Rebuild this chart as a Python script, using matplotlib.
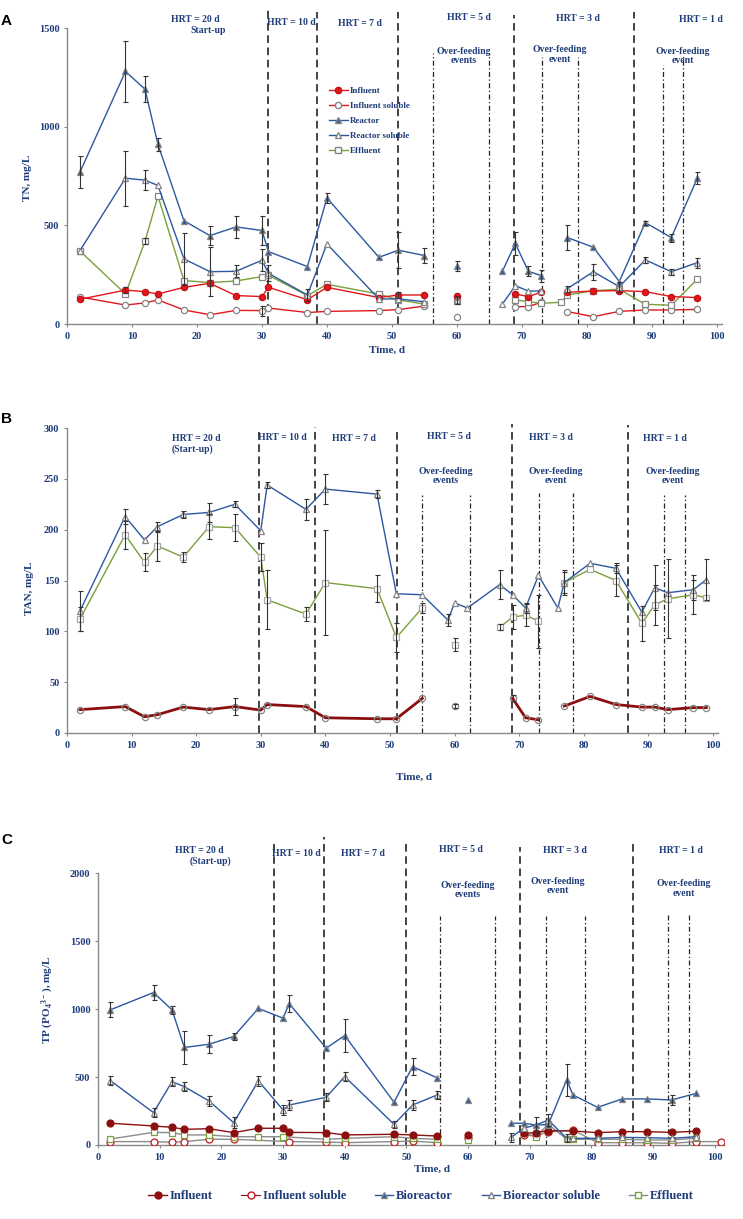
import numpy as np
import matplotlib.pyplot as plt
from matplotlib.lines import Line2D

nan = np.nan

# ---------------- Panel A: TN ----------------
a_reac_day = [2, 9, 12, 14, 18, 22, 26, 30, 31, 37, 40, 48, 51, 55, 57, 60, 62, 67, 69, 71, 73, 75, 77, 81, 85, 89, 93, 97]
a_reac = [770, 1280, 1190, 910, 523, 448, 492, 474, 367, 291, 639, 338, 374, 347, nan, 294, nan, 267, 408, 267, 245, nan, 438, 389, 215, 514, 438, 739]
a_reac_err = [80, 155, 65, 35, 0, 50, 55, 75, 0, 0, 25, 0, 90, 40, 0, 25, 0, 0, 60, 25, 30, 0, 65, 0, 0, 10, 20, 30]
a_rsol = [372, 739, 729, 702, 330, 265, 267, 323, 257, 147, 406, 127, 127, 113, nan, 122, nan, 101, 194, 167, 167, nan, 179, 265, 189, 325, 265, 311]
a_rsol_err = [0, 140, 50, 0, 130, 125, 30, 55, 40, 30, 0, 0, 0, 0, 0, 20, 0, 0, 0, 0, 0, 0, 15, 40, 25, 15, 15, 25]

a_inf_day = [2, 9, 12, 14, 18, 22, 26, 30, 31, 37, 40, 48, 51, 55, 57, 60, 62, 69, 71, 73, 75, 77, 81, 85, 89, 93, 97]
a_inf = [125, 172, 164, 152, 186, 206, 144, 139, 186, 123, 186, 134, 147, 147, nan, 144, nan, 152, 139, 161, nan, 161, 167, 169, 164, 139, 134]
a_inf_err = [0, 15, 0, 0, 0, 0, 0, 0, 0, 0, 0, 0, 15, 0, 0, 0, 0, 0, 0, 0, 0, 0, 0, 0, 0, 0, 0]
a_isol = [137, 96, 107, 122, 71, 47, 69, 68, 81, 58, 64, 68, 73, 91, nan, 36, nan, 88, 88, 110, nan, 63, 37, 64, 71, 71, 74]
a_isol_err = [0, 0, 0, 0, 0, 0, 0, 25, 0, 0, 0, 0, 0, 0, 0, 0, 0, 0, 0, 0, 0, 0, 0, 0, 0, 0, 0]

a_eff_day = [2, 9, 12, 14, 18, 22, 26, 30, 31, 37, 40, 48, 51, 55, 57, 60, 62, 69, 71, 73, 76, 77, 81, 85, 89, 93, 97]
a_eff = [370, 152, 419, 648, 220, 210, 218, 240, 247, 144, 201, 152, 122, 101, nan, 117, nan, 122, 113, 105, 110, 147, 169, 176, 100, 95, 227]
a_eff_err = [0, 0, 15, 0, 0, 0, 0, 0, 0, 0, 0, 0, 0, 0, 0, 0, 0, 0, 0, 0, 0, 0, 0, 0, 0, 0, 0]

a_dash = [31, 38.5, 51, 68.8, 87.2]
a_dash_top = [1590, 1581, 1581, 1566, 1581]
a_dashdot = [56.3, 64.9, 73.1, 78.6, 91.7, 94.8]
a_dashdot_top = [1373, 1373, 1353, 1353, 1313, 1363]

# ---------------- Panel B: TAN ----------------
b_rsol_day = [2, 9, 12, 14, 18, 22, 26, 30, 31, 37, 40, 48, 51, 55, 59, 60, 62, 67, 69, 71, 73, 76, 77, 81, 85, 89, 91, 93, 97, 99]
b_rsol = [120, 213, 190, 203, 215, 217, 225, 199, 244, 220, 240, 235, 137, 136, 111, 128, 123, 146, 136, 123, 155, 123, 148, 167, 162, 119, 143, 138, 141, 151]
b_rsol_err = [20, 7, 0, 5, 3, 9, 3, 0, 3, 10, 15, 4, 0, 0, 6, 0, 0, 14, 0, 5, 0, 0, 10, 0, 5, 0, 22, 0, 10, 20]

b_eff_day = [2, 9, 12, 14, 18, 22, 26, 30, 31, 37, 40, 48, 51, 55, 57, 60, 64, 67, 69, 71, 73, 75, 77, 81, 85, 89, 91, 93, 97, 99]
b_eff = [112, 195, 168, 184, 173, 203, 202, 173, 131, 117, 148, 142, 94, 123, nan, 87, nan, 104, 114, 116, 110, nan, 148, 161, 150, 108, 126, 132, 136, 133]
b_eff_err = [12, 14, 9, 15, 5, 12, 13, 14, 29, 7, 52, 13, 14, 5, 0, 6, 0, 3, 12, 11, 26, 0, 12, 0, 15, 17, 20, 39, 19, 0]

b_inf_day = [2, 9, 12, 14, 18, 22, 26, 30, 31, 37, 40, 48, 51, 55, 57, 60, 64, 69, 71, 73, 75, 77, 81, 85, 89, 91, 93, 97, 99]
b_inf = [23, 26, 16, 18, 25.5, 23, 26, 22.5, 28, 26, 15, 14, 14, 34, nan, 26.5, nan, 34, 15, 13, nan, 26.5, 36, 28, 25.5, 25.5, 23, 25, 25]
b_inf_err = [0, 0, 0, 0, 0, 0, 8, 0, 0, 0, 0, 0, 0, 0, 0, 2, 0, 3, 0, 0, 0, 0, 0, 0, 0, 0, 0, 0, 0]

b_dash = [29.8, 38.4, 51.1, 68.9, 86.8]
b_dash_top = [300, 301, 300, 304, 303]
b_dashdot = [55.0, 62.45, 73.1, 78.4, 92.4, 95.7]
b_dashdot_top = [234, 234, 236, 236, 234, 234]

# ---------------- Panel C: TP ----------------
c_bio_day = [2, 9, 12, 14, 18, 22, 26, 30, 31, 37, 40, 48, 51, 55, 57, 60, 62, 67, 69, 71, 73, 76, 77, 81, 85, 89, 93, 97]
c_bio = [994, 1121, 994, 717, 741, 798, 1004, 933, 1040, 712, 805, 314, 577, 493, nan, 334, nan, 160, 160, 147, 150, 479, 368, 277, 339, 339, 331, 380]
c_bio_err = [55, 55, 30, 120, 65, 25, 0, 0, 60, 0, 120, 0, 60, 0, 0, 0, 0, 0, 0, 0, 0, 120, 0, 0, 0, 0, 40, 0]

c_bsol_day = [2, 9, 12, 14, 18, 22, 26, 30, 31, 37, 40, 48, 51, 55, 60, 67, 69, 71, 73, 76, 77, 81, 85, 89, 93, 97]
c_bsol = [474, 238, 466, 429, 324, 164, 471, 258, 294, 351, 503, 152, 294, 368, nan, 56, 123, 147, 184, 49, 49, 49, 56, 54, 49, 61]
c_bsol_err = [35, 35, 35, 35, 35, 40, 35, 35, 35, 30, 35, 25, 35, 30, 0, 35, 0, 60, 45, 30, 0, 0, 0, 0, 0, 0]

c_inf_day = [2, 9, 12, 14, 18, 22, 26, 30, 31, 37, 40, 48, 51, 55, 57, 60, 62, 69, 71, 73, 77, 81, 85, 89, 93, 97]
c_inf = [160, 140, 130, 115, 120, 91, 123, 123, 93, 91, 74, 79, 74, 66, nan, 74, nan, 86, 91, 106, 103, 91, 98, 98, 93, 101]

c_isol_day = [2, 9, 12, 14, 18, 22, 31, 37, 40, 48, 51, 55, 57, 60, 62, 69, 71, 73, 77, 81, 85, 89, 93, 97, 101]
c_isol = [25, 25, 20, 25, 42, 42, 25, 22, 17, 25, 29, 17, nan, 49, nan, 70, 70, 95, 110, 17, 17, 17, 12, 25, 25]

c_eff_day = [2, 9, 12, 14, 18, 22, 26, 30, 37, 40, 48, 51, 55, 57, 60, 62, 69, 71, 73, 76, 77, 81, 85, 89, 93, 97]
c_eff = [44, 93, 91, 74, 74, 61, 61, 61, 42, 49, 61, 49, 42, nan, 37, nan, 91, 61, 152, 42, 42, 42, 42, 37, 37, 49]

c_dash = [28.5, 36.7, 50, 68.5, 86.8]
c_dash_top = [2245, 2262, 2240, 2191, 2226]
c_dashdot = [55.4, 64.4, 72.6, 79, 92.5, 95.8]
c_dashdot_top = [1681, 1681, 1681, 1681, 1693, 1693]

# ---------------- style ----------------
TXT = '#1f3d7a'
BLUE = '#2b58a0'
RED = '#e2161b'
DRED = '#8b0f0f'
OLIVE = '#7aa03a'
GREY = '#858585'
SERIF = 'Liberation Serif'

plt.rcParams['font.family'] = SERIF
plt.rcParams['font.weight'] = 'bold'
plt.rcParams['mathtext.fontset'] = 'custom'
plt.rcParams['mathtext.rm'] = 'Liberation Serif:bold'
plt.rcParams['mathtext.bf'] = 'Liberation Serif:bold'
plt.rcParams['mathtext.default'] = 'rm'

W, H = 743, 1219
fig = plt.figure(figsize=(W / 100, H / 100), dpi=100)


def fx(px):
    return px / W


def fy(py):
    return 1 - py / H


def series(ax, x, y, err, color, marker, mfc, mec, lw=1.0, ms=4.5, lc=None):
    x = np.array(x, dtype=float)
    y = np.array(y, dtype=float)
    ax.plot(x, y, color=lc or color, lw=lw, marker=marker, ms=ms,
            mfc=mfc, mec=mec, mew=0.9, zorder=3)
    if err is not None:
        e = np.array(err, dtype=float)
        m = (e > 0) & ~np.isnan(y)
        if m.any():
            ax.errorbar(x[m], y[m], yerr=e[m], fmt='none', ecolor='#333333',
                        elinewidth=0.8, capsize=1.8, capthick=0.8, zorder=4)


def style_axes(ax, xlim, ylim, yticks):
    ax.set_xlim(*xlim)
    ax.set_ylim(*ylim)
    ax.set_xticks(range(0, 101, 10))
    ax.set_yticks(yticks)
    for s in ('top', 'right'):
        ax.spines[s].set_visible(False)
    for s in ('left', 'bottom'):
        ax.spines[s].set_color('#8a8a8a')
        ax.spines[s].set_linewidth(1.0)
    ax.spines['left'].set_bounds(yticks[0], yticks[-1])
    ax.tick_params(length=2, color='#8a8a8a', labelcolor=TXT, labelsize=7.5)
    for lab in ax.get_xticklabels() + ax.get_yticklabels():
        lab.set_fontweight('bold')


def vlines(ax, xs, tops, kind):
    for x, t in zip(xs, tops):
        if kind == 'dash':
            ax.plot([x, x], [0, t], color='#111111', lw=1.1, ls=(0, (5, 3)), zorder=2)
        else:
            ax.plot([x, x], [0, t], color='#222222', lw=0.9, ls=(0, (4, 2, 1, 2)), zorder=2)


def note(ax, x, y, s, ha='center'):
    ax.text(x, y, s, ha=ha, va='center', color=TXT, fontsize=7,
            fontweight='bold', linespacing=1.05)


# ---------------- A ----------------
axA = fig.add_axes([fx(67), fy(324), fx(722) - fx(67), (324 - 8.3) / H])
style_axes(axA, (0, 100.8), (0, 1600), [0, 500, 1000, 1500])
vlines(axA, a_dash, a_dash_top, 'dash')
vlines(axA, a_dashdot, a_dashdot_top, 'dashdot')
series(axA, a_inf_day, a_isol, a_isol_err, RED, 'o', 'white', GREY)
series(axA, a_eff_day, a_eff, a_eff_err, OLIVE, 's', 'white', GREY)
series(axA, a_inf_day, a_inf, a_inf_err, RED, 'o', RED, '#c01015')
series(axA, a_reac_day, a_rsol, a_rsol_err, BLUE, '^', 'white', GREY)
series(axA, a_reac_day, a_reac, a_reac_err, BLUE, '^', BLUE, GREY)

note(axA, 19.7, 1541, 'HRT = 20 d')
note(axA, 21.7, 1485, 'Start-up')
note(axA, 34.5, 1529, 'HRT = 10 d')
note(axA, 45.1, 1524, 'HRT = 7 d')
note(axA, 61.9, 1554, 'HRT = 5 d')
note(axA, 78.7, 1546, 'HRT = 3 d')
note(axA, 97.5, 1541, 'HRT = 1 d')
note(axA, 61.1, 1359, 'Over-feeding\nevents')
note(axA, 75.8, 1365, 'Over-feeding\nevent')
note(axA, 94.7, 1359, 'Over-feeding\nevent')

legA = [
    Line2D([], [], color=RED, marker='o', mfc=RED, mec='#c01015', ms=4.5, lw=1),
    Line2D([], [], color=RED, marker='o', mfc='white', mec=GREY, ms=4.5, lw=1),
    Line2D([], [], color=BLUE, marker='^', mfc=BLUE, mec=GREY, ms=4.5, lw=1),
    Line2D([], [], color=BLUE, marker='^', mfc='white', mec=GREY, ms=4.5, lw=1),
    Line2D([], [], color=OLIVE, marker='s', mfc='white', mec=GREY, ms=4.5, lw=1),
]
lg = axA.legend(legA, ['Influent', 'Influent soluble', 'Reactor', 'Reactor soluble', 'Effluent'],
                loc='upper left', bbox_to_anchor=((324 - 67) / 655, (324 - 82) / 315.7),
                frameon=False, fontsize=6.5, handlelength=2.2, handletextpad=0.2,
                labelspacing=0.75, borderpad=0)
for t in lg.get_texts():
    t.set_color(TXT)
    t.set_fontweight('bold')

fig.text(fx(28), fy(178), 'TN, mg/L', rotation=90, ha='center', va='center',
         color=TXT, fontsize=8, fontweight='bold')
fig.text(fx(387), fy(350), 'Time, d', ha='center', va='center',
         color=TXT, fontsize=8, fontweight='bold')

# ---------------- B ----------------
axB = fig.add_axes([fx(67), fy(733), fx(718) - fx(67), (733 - 423) / H])
style_axes(axB, (0, 100.8), (0, 305), [0, 50, 100, 150, 200, 250, 300])
vlines(axB, b_dash, b_dash_top, 'dash')
vlines(axB, b_dashdot, b_dashdot_top, 'dashdot')
series(axB, b_inf_day, b_inf, b_inf_err, DRED, 'o', 'none', GREY, lw=2.0, ms=4.5)
series(axB, b_eff_day, b_eff, b_eff_err, OLIVE, 's', 'white', '#a8a8a8', ms=4.5)
series(axB, b_rsol_day, b_rsol, b_rsol_err, BLUE, '^', 'white', GREY, ms=4.5)

note(axB, 16.2, 290, 'HRT = 20 d', ha='left')
note(axB, 16.2, 279, '(Start-up)', ha='left')
note(axB, 33.3, 291, 'HRT = 10 d')
note(axB, 44.4, 290, 'HRT = 7 d')
note(axB, 59.2, 292, 'HRT = 5 d')
note(axB, 74.9, 291, 'HRT = 3 d')
note(axB, 92.6, 290, 'HRT = 1 d')
note(axB, 58.7, 253, 'Over-feeding\nevents')
note(axB, 75.7, 253, 'Over-feeding\nevent')
note(axB, 93.8, 253, 'Over-feeding\nevent')

fig.text(fx(30), fy(588), 'TAN, mg/L', rotation=90, ha='center', va='center',
         color=TXT, fontsize=8, fontweight='bold')
fig.text(fx(414), fy(777), 'Time, d', ha='center', va='center',
         color=TXT, fontsize=8, fontweight='bold')

# ---------------- C ----------------
axC = fig.add_axes([fx(98), fy(1145), fx(724) - fx(98), (1145 - 836.3) / H])
style_axes(axC, (0, 101.5), (0, 2270), [0, 500, 1000, 1500, 2000])
vlines(axC, c_dash, c_dash_top, 'dash')
vlines(axC, c_dashdot, c_dashdot_top, 'dashdot')
series(axC, c_isol_day, c_isol, None, DRED, 'o', 'white', '#c0191e', ms=5, lc='#8c8c8c')
series(axC, c_eff_day, c_eff, None, OLIVE, 's', 'white', OLIVE, ms=5, lc='#8c8c8c')
series(axC, c_inf_day, c_inf, None, DRED, 'o', DRED, DRED, ms=5)
series(axC, c_bsol_day, c_bsol, c_bsol_err, BLUE, '^', 'white', GREY, ms=5)
series(axC, c_bio_day, c_bio, c_bio_err, BLUE, '^', BLUE, GREY, ms=5)

note(axC, 16.5, 2162, 'HRT = 20 d')
note(axC, 18.3, 2086, '(Start-up)')
note(axC, 32.1, 2140, 'HRT = 10 d')
note(axC, 43.0, 2140, 'HRT = 7 d')
note(axC, 58.9, 2176, 'HRT = 5 d')
note(axC, 75.7, 2169, 'HRT = 3 d')
note(axC, 94.5, 2165, 'HRT = 1 d')
note(axC, 60.0, 1874, 'Over-feeding\nevents')
note(axC, 74.6, 1905, 'Over-feeding\nevent')
note(axC, 95.0, 1885, 'Over-feeding\nevent')

fig.text(fx(48), fy(1000), r'TP (PO$_4$$^{3-}$), mg/L', rotation=90, ha='center',
         va='center', color=TXT, fontsize=8, fontweight='bold')
fig.text(fx(432), fy(1169), 'Time, d', ha='center', va='center',
         color=TXT, fontsize=8, fontweight='bold')

legC = [
    Line2D([], [], color=DRED, marker='o', mfc=DRED, mec=DRED, ms=5, lw=1),
    Line2D([], [], color=DRED, marker='o', mfc='white', mec='#c0191e', ms=5, lw=0.8),
    Line2D([], [], color=BLUE, marker='^', mfc=BLUE, mec=GREY, ms=5, lw=1),
    Line2D([], [], color=BLUE, marker='^', mfc='white', mec=GREY, ms=5, lw=1),
    Line2D([], [], color='#8c8c8c', marker='s', mfc='white', mec=OLIVE, ms=5, lw=1),
]
lgc = fig.legend(legC, ['Influent', 'Influent soluble', 'Bioreactor', 'Bioreactor soluble', 'Effluent'],
                 loc='center', bbox_to_anchor=(fx(421), fy(1196)), ncol=5, frameon=False,
                 fontsize=9, handlelength=1.5, handletextpad=0.2, columnspacing=2.3)
for t in lgc.get_texts():
    t.set_color(TXT)
    t.set_fontweight('bold')

# panel letters
for letter, py in (('A', 21), ('B', 419), ('C', 840)):
    fig.text(fx(1), fy(py), letter, ha='left', va='center', fontsize=11,
             fontweight='bold', family='Liberation Sans', color='black')

fig.savefig('out.png', dpi=100)
